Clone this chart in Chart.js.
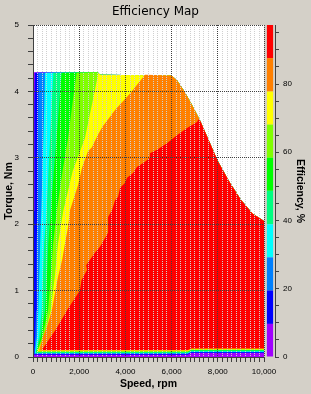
<!DOCTYPE html>
<html>
<head>
<meta charset="utf-8">
<script src="https://cdn.jsdelivr.net/npm/chart.js@4.4.1/dist/chart.umd.min.js"></script>
<style>
  body { margin: 0; background: #d4d0c8; }
  #wrap { position: relative; width: 311px; height: 394px; }
  #wrap canvas { position: absolute; left: 0; top: 0; }
</style>
</head>
<body>
<div id="wrap">
  <canvas id="mapChart" width="311" height="394"></canvas>
  <canvas id="scaleChart" width="311" height="394"></canvas>
</div>
<script>
// Efficiency levels (%) of the colour bands and their colours
const levels = [0, 9.7, 19.5, 29.2, 38.9, 48.7, 58.4, 68.1, 77.8, 87.6, 97.3];
const bandColors = ['#a000ff', '#0000ff', '#0080ff', '#00ffff', '#00ff80',
                    '#00ff00', '#80ff00', '#ffff00', '#ff8000', '#ff0000'];

// Torque limit curve
const envSpeed  = [0, 2800, 2900, 6000, 6250, 6500, 6750, 7000, 7250, 7500, 8000, 8500, 9000, 9500, 10000];
const envTorque = [4.29, 4.29, 4.25, 4.24, 4.16, 4.03, 3.88, 3.72, 3.55, 3.35, 2.95, 2.64, 2.37, 2.16, 2.05];

// Lowest torque of each band (thin strip along the bottom) and its step up at high speed
const bandBottom = [0, 0.035, 0.045, 0.055, 0.063, 0.072, 0.08, 0.088, 0.097, 0.105];
const stepSpeed = [6700, 6850];
const stepUp = 0.025;

// Left edge of bands blue..yellow: speed (rpm) at these torques (Nm)
const edgeTorque = [0.3, 0.7, 1.2, 1.7, 2.2, 2.8, 3.3, 3.8, 4.28];
const cornerSpeed = [15, 50, 80, 110, 140, 170, 200];
const blueEdge   = [25, 30, 35, 40, 45, 55, 65, 75, 87];
const azureEdge  = [100, 130, 150, 170, 190, 205, 215, 225, 230];
const cyanEdge   = [170, 230, 270, 310, 360, 410, 450, 490, 520];
const springEdge = [260, 375, 430, 480, 590, 670, 740, 810, 880];
const greenEdge  = [330, 520, 600, 660, 770, 900, 1020, 1130, 1240];
const limeEdge   = [400, 650, 770, 870, 1030, 1280, 1520, 1700, 1890];
const yellowEdge = [480, 770, 940, 1080, 1310, 1720, 2250, 2550, 2830];

// Left edge of the orange band
const orangeSpeed  = [260, 430, 600, 820, 950, 1080, 1260, 1390, 1520, 1600, 1730, 1950, 2120, 2380, 2550, 2800, 2990, 3550, 4200, 4850];
const orangeTorque = [0.097, 0.3, 0.45, 0.71, 0.96, 1.2, 1.46, 1.72, 1.96, 2.21, 2.35, 2.59, 2.85, 3.1, 3.16, 3.34, 3.46, 3.72, 3.97, 4.25];

// Left/top edge of the red band
const redSpeed  = [380, 1000, 1500, 2030, 2100, 2340, 2300, 2680, 2900, 3250, 3250, 3420, 3550, 3680, 3770, 3980, 4070, 4330, 4500, 4850, 5060, 5060, 5370, 5800, 6230, 6670, 7100, 7160];
const redTorque = [0.105, 0.42, 0.72, 1.0, 1.16, 1.31, 1.38, 1.57, 1.66, 1.87, 2.11, 2.21, 2.36, 2.41, 2.55, 2.62, 2.7, 2.77, 2.86, 2.94, 3.0, 3.07, 3.12, 3.22, 3.34, 3.45, 3.54, 3.58];

const edges = [null, blueEdge, azureEdge, cyanEdge, springEdge, greenEdge, limeEdge, yellowEdge];
const envelope = envSpeed.map((s, i) => ({x: s, y: envTorque[i]}));

function bandLine(k) {
  let pts;
  if (k === 0) return envelope;
  if (k === 8) pts = orangeSpeed.map((s, i) => ({x: s, y: orangeTorque[i]}));
  else if (k === 9) pts = redSpeed.map((s, i) => ({x: s, y: redTorque[i]}));
  else pts = [{x: cornerSpeed[k - 1], y: bandBottom[k]}].concat(edges[k].map((s, i) => ({x: s, y: edgeTorque[i]})));
  const last = pts[pts.length - 1].x;
  return pts.concat(envelope.filter(p => p.x > last));
}

const datasets = [];
for (let k = 0; k < bandColors.length; k++) {
  datasets.push({
    data: bandLine(k),
    fill: k === 0 ? {value: 0} : bandColors.length + k - 1,
    backgroundColor: bandColors[k],
    borderWidth: 0,
    pointRadius: 0,
    tension: 0,
    order: 20 - k,
  });
}
// invisible bottom edges the bands fill down to
for (let k = 1; k < bandColors.length; k++) {
  const b = bandBottom[k];
  datasets.push({
    data: [{x: 0, y: b}, {x: stepSpeed[0], y: b}, {x: stepSpeed[1], y: b + stepUp}, {x: 10000, y: b + stepUp}],
    fill: false,
    borderWidth: 0,
    pointRadius: 0,
    order: 30,
  });
}

const plotBackground = {
  id: 'plotBackground',
  beforeDraw(chart) {
    const {ctx, chartArea: a} = chart;
    ctx.save();
    ctx.fillStyle = '#ffffff';
    ctx.fillRect(a.left, a.top, a.right - a.left, a.bottom - a.top);
    ctx.restore();
  }
};

const tickFont = {family: 'Liberation Sans', size: 8};
const titleFont = {family: 'Liberation Sans', size: 10.5, weight: 'bold'};
const isWhole = v => Math.abs(v - Math.round(v)) < 1e-6;

new Chart(document.getElementById('mapChart'), {
  type: 'line',
  data: {datasets},
  plugins: [plotBackground],
  options: {
    responsive: false,
    animation: false,
    devicePixelRatio: 1,
    layout: {padding: 0},
    plugins: {
      legend: {display: false},
      tooltip: {enabled: false},
      title: {
        display: true,
        text: 'Efficiency Map',
        color: '#000',
        font: {family: 'DejaVu Sans', size: 12, weight: 'normal'},
        padding: {top: 4.5, bottom: 6.1},
      },
    },
    scales: {
      x: {
        type: 'linear',
        min: 0,
        max: 10000,
        ticks: {
          stepSize: 200,
          autoSkip: false,
          maxRotation: 0,
          minRotation: 0,
          color: '#000',
          font: tickFont,
          padding: 5,
          z: 1,
          callback: v => (v % 2000 === 0 ? v.toLocaleString('en-US') : ''),
        },
        grid: {
          z: 1,
          color: c => (c.tick && c.tick.value % 2000 === 0 ? '#404040' : '#d0d0d0'),
          tickColor: '#404040',
          tickLength: 5,
        },
        border: {display: true, color: '#404040', width: 1, dash: [1, 1], z: 1},
        title: {display: true, text: 'Speed, rpm', color: '#000', font: titleFont, padding: {top: 0, bottom: 3.4}},
        afterFit: s => { s.height = 37; },
      },
      y: {
        min: 0,
        max: 5,
        ticks: {
          stepSize: 0.2,
          color: '#000',
          font: tickFont,
          padding: 9,
          z: 1,
          callback: v => (isWhole(v) ? String(Math.round(v)) : ''),
        },
        grid: {
          z: 1,
          color: c => (c.tick && isWhole(c.tick.value) ? '#404040' : 'rgba(0,0,0,0)'),
          tickColor: '#404040',
          tickLength: 5,
        },
        border: {display: true, color: '#404040', width: 1, dash: [1, 1], z: 1},
        title: {display: true, text: 'Torque, Nm', color: '#000', font: titleFont, padding: {top: 2.7, bottom: 0}},
        afterFit: s => { s.width = 33; },
      },
      spacer: {
        type: 'linear',
        position: 'right',
        display: true,
        ticks: {display: false},
        grid: {display: false, drawTicks: false},
        border: {display: false},
        afterFit: s => { s.width = 47; },
      },
    },
  },
});

// colour scale
new Chart(document.getElementById('scaleChart'), {
  type: 'bar',
  data: {
    labels: [''],
    datasets: bandColors.map((c, k) => ({
      data: [[levels[k], levels[k + 1]]],
      backgroundColor: c,
      borderWidth: 0,
      barPercentage: 0.62,
      categoryPercentage: 1,
      grouped: false,
    })),
  },
  options: {
    responsive: false,
    animation: false,
    devicePixelRatio: 1,
    layout: {padding: {left: 265, top: 25, bottom: 37, right: 0}},
    plugins: {legend: {display: false}, tooltip: {enabled: false}},
    scales: {
      x: {display: false},
      y: {
        position: 'right',
        min: 0,
        max: levels[levels.length - 1],
        bounds: 'data',
        ticks: {
          stepSize: 5,
          includeBounds: false,
          color: '#000',
          font: tickFont,
          padding: 4,
          callback: v => (v % 20 === 0 ? String(v) : ''),
        },
        grid: {drawOnChartArea: false, tickColor: '#404040', tickLength: 4},
        border: {display: true, color: '#404040', width: 1},
        title: {display: true, text: 'Efficiency, %', color: '#000', font: titleFont, padding: {top: 4.4, bottom: 0}},
        afterFit: s => { s.width = 36; },
      },
    },
  },
});
</script>
</body>
</html>
